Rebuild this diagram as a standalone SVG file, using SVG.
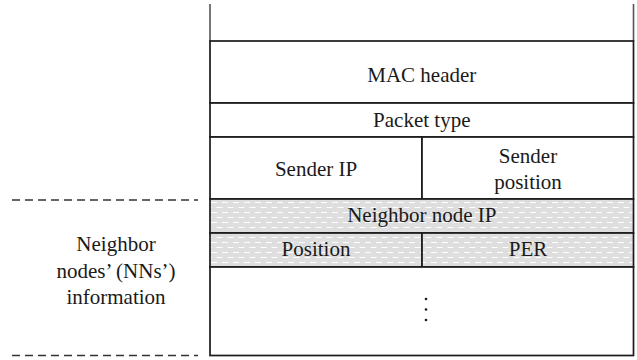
<svg xmlns="http://www.w3.org/2000/svg" width="637" height="360" viewBox="0 0 637 360">
<style>
.t{font-family:'Liberation Serif','DejaVu Serif',serif;font-size:21px;fill:#1a1a1a;text-anchor:middle}
.box{fill:#ffffff;stroke:#1a1a1a;stroke-width:1.7}
.shade{fill:url(#dots);stroke:#1a1a1a;stroke-width:1.7}
.dash{stroke:#333;stroke-width:1.5;stroke-dasharray:8 5;fill:none}
.edge{stroke:#555;stroke-width:1.6;fill:none}
</style>
<defs>
<pattern id="dots" width="22" height="10" patternUnits="userSpaceOnUse">
<rect width="22" height="10" fill="#dedede"/>
<path d="M2 2.5H8M13 2.5H19M7.5 7.5H13.5M18.5 7.5H24.5M-3.5 7.5H2.5" stroke="#ffffff" stroke-width="1"/>
</pattern>
</defs>
<rect width="637" height="360" fill="#ffffff"/>
<g id="guides">
<line class="edge" x1="210" y1="4" x2="210" y2="41"/>
<line class="edge" x1="633.5" y1="4" x2="633.5" y2="41"/>
<line class="dash" x1="12" y1="200" x2="198" y2="200"/>
<line class="dash" x1="12" y1="355.5" x2="198" y2="355.5"/>
</g>
<g id="mac-header">
<rect class="box" x="210" y="41" width="423.5" height="62"/>
<text class="t" x="421.8" y="82">MAC header</text>
</g>
<g id="packet-type">
<rect class="box" x="210" y="103" width="423.5" height="34"/>
<text class="t" x="421.8" y="127">Packet type</text>
</g>
<g id="sender-ip">
<rect class="box" x="210" y="137" width="212" height="62"/>
<text class="t" x="316" y="176">Sender IP</text>
</g>
<g id="sender-position">
<rect class="box" x="422" y="137" width="211.5" height="62"/>
<text class="t" x="528" y="163">Sender</text>
<text class="t" x="528" y="189">position</text>
</g>
<g id="neighbor-node-ip">
<rect class="shade" x="210" y="199" width="423.5" height="34"/>
<text class="t" x="421.8" y="222">Neighbor node IP</text>
</g>
<g id="position">
<rect class="shade" x="210" y="233" width="212" height="34"/>
<text class="t" x="316" y="256">Position</text>
</g>
<g id="per">
<rect class="shade" x="422" y="233" width="211.5" height="34"/>
<text class="t" x="528" y="256">PER</text>
</g>
<g id="more">
<rect class="box" x="210" y="267" width="423.5" height="88.5"/>
<circle cx="426" cy="299" r="1.3" fill="#1a1a1a"/>
<circle cx="426" cy="309.5" r="1.3" fill="#1a1a1a"/>
<circle cx="426" cy="320" r="1.3" fill="#1a1a1a"/>
</g>
<g id="nn-label">
<text class="t" x="116" y="251">Neighbor</text>
<text class="t" x="116" y="278">nodes’ (NNs’)</text>
<text class="t" x="116" y="304">information</text>
</g>
</svg>
